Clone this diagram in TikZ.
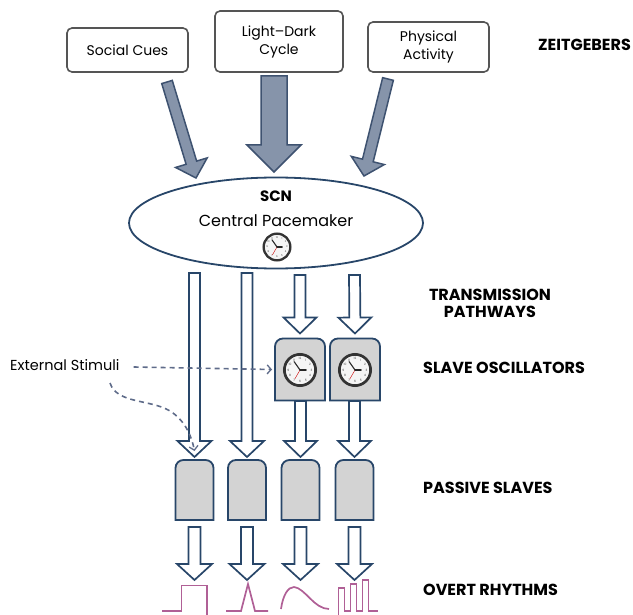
\documentclass[tikz,border=0pt]{standalone}
\usepackage{fontspec}
\setmainfont{Poppins}
\usetikzlibrary{calc,shapes.geometric,arrows.meta}
\definecolor{zfill}{RGB}{134,148,170}
\definecolor{zline}{RGB}{62,82,112}
\definecolor{navy}{RGB}{40,70,105}
\definecolor{boxline}{RGB}{85,85,85}
\definecolor{slavefill}{RGB}{211,211,211}
\definecolor{rhythmc}{RGB}{176,96,150}
\definecolor{dashc}{RGB}{95,108,138}

% block arrow: style, from, to, shaft half width, head half width, head length
\newcommand\blockarrow[6]{%
  \coordinate (bah) at ($(#3)!#6!(#2)$);
  \filldraw[#1] ($(#2)!#4!90:(#3)$) -- ($(bah)!#4!90:(#3)$) -- ($(bah)!#5!90:(#3)$)
    -- (#3) -- ($(bah)!#5!-90:(#3)$) -- ($(bah)!#4!-90:(#3)$) -- ($(#2)!#4!-90:(#3)$) -- cycle;
}
% clock: centre, radius, numeral size
\newcommand\clockface[3]{%
  \begin{scope}[shift={(#1)}, yscale=-1]
    \fill[white!92!gray] (0,0) circle[radius=#2];
    \foreach \h in {1,...,12}
      \node[inner sep=0pt, text=black!75, font=\fontsize{#3}{#3}\selectfont] at ({90-30*\h}:{0.68*#2}) {\h};
    \draw[red!80!black, line width=0.4pt] (0,0) -- (240:{0.62*#2});
    \draw[black!85, line width=1.1pt, line cap=round] (0,0) -- (125:{0.6*#2});
    \draw[black!85, line width=1.1pt, line cap=round] (0,0) -- (0:{0.36*#2});
    \draw[black!80, line width={0.16*#2 pt}] (0,0) circle[radius={0.92*#2}];
  \end{scope}
}
% box with rounded top corners around a node
\newcommand\topround[2]{%
  \filldraw[slavebox] (#1.south west) -- ([yshift=-#2pt]#1.north west)
    arc[start angle=180, end angle=270, radius=#2] -- ([xshift=-#2pt]#1.north east)
    arc[start angle=270, end angle=360, radius=#2] -- (#1.south east) -- cycle;
}

\begin{document}
\begin{tikzpicture}[x=1pt, y=-1pt,
  zbox/.style={draw=boxline, line width=1.6pt, rounded corners=5pt, fill=white,
    font=\fontsize{14}{18}\selectfont, align=center, inner sep=0pt},
  zarrow/.style={fill=zfill, draw=zline, line width=1.5pt, line join=miter},
  tarrow/.style={fill=white, draw=navy, line width=1.7pt, line join=miter},
  slavebox/.style={fill=slavefill, draw=navy, line width=1.8pt},
  holder/.style={inner sep=0pt, outer sep=0pt},
  lvl/.style={font=\fontsize{16}{17}\selectfont\bfseries, inner sep=0pt, anchor=west, align=center},
  rhy/.style={draw=rhythmc, line width=1.7pt, line join=miter},
  dashln/.style={draw=dashc, line width=1.6pt, dash pattern=on 5pt off 4pt},
]
\useasboundingbox (0,0) rectangle (633,615);

% Zeitgebers
\node[zbox, minimum width=121pt, minimum height=44pt] (social) at (127.5,50) {Social Cues};
\node[zbox, minimum width=128pt, minimum height=61pt] (light) at (279,41.5) {Light–Dark\\Cycle};
\node[zbox, minimum width=121pt, minimum height=50pt] (phys) at (428.5,47) {Physical\\Activity};

% SCN
\node[ellipse, draw=navy, line width=1.8pt, minimum width=294pt, minimum height=91pt, inner sep=0pt] (scn) at (276,223) {};
\node[font=\fontsize{15}{16}\selectfont\bfseries, inner sep=0pt] (scnlab) at (276,196) {SCN};
\node[font=\fontsize{16}{18}\selectfont, inner sep=0pt] (cp) at (276,221) {Central Pacemaker};
\coordinate (c0) at (277,247);
\clockface{c0}{14.5}{2.5}

% zeitgeber arrows
\coordinate (za1) at (167,82);  \coordinate (zb1) at (196,178);
\coordinate (za2) at (274,76);  \coordinate (zb2) at (274,172);
\coordinate (za3) at (388,79);  \coordinate (zb3) at (364,176);
\blockarrow{zarrow}{za1}{zb1}{5.5pt}{16.5pt}{16pt}
\blockarrow{zarrow}{za2}{zb2}{13pt}{27pt}{27pt}
\blockarrow{zarrow}{za3}{zb3}{5.5pt}{17pt}{16pt}

% slave oscillators
\node[holder, minimum width=50pt, minimum height=62pt] (osc1) at (300,369.5) {};
\node[holder, minimum width=50pt, minimum height=62pt] (osc2) at (355,369.5) {};
\topround{osc1}{8}
\topround{osc2}{8}
\coordinate (c1) at (300,370);
\coordinate (c2) at (355,370);
\clockface{c1}{17}{3}
\clockface{c2}{17}{3}

% passive slaves
\node[holder, minimum width=38pt, minimum height=60pt] (p1) at (194.5,490) {};
\node[holder, minimum width=38pt, minimum height=60pt] (p2) at (247,490) {};
\node[holder, minimum width=38pt, minimum height=60pt] (p3) at (300.5,490) {};
\node[holder, minimum width=38pt, minimum height=60pt] (p4) at (354.5,490) {};
\foreach \n in {p1,p2,p3,p4} {\topround{\n}{8}}

% transmission arrows
\coordinate (t1) at (194.5,273); \coordinate (t2) at (247,273);
\coordinate (t3) at (300,275);   \coordinate (t4) at (354.5,275);
\coordinate (e1) at ([yshift=3pt]p1.north);
\coordinate (e2) at ([yshift=3pt]p2.north);
\coordinate (o1) at ([yshift=5pt]osc1.north);
\coordinate (o2) at ([yshift=5pt]osc2.north);
\blockarrow{tarrow}{t1}{e1}{5.5pt}{17pt}{16pt}
\blockarrow{tarrow}{t2}{e2}{5.5pt}{17pt}{16pt}
\blockarrow{tarrow}{t3}{o1}{5.5pt}{16.5pt}{16pt}
\blockarrow{tarrow}{t4}{o2}{5.5pt}{16.5pt}{16pt}
\coordinate (s3) at (300.5,401); \coordinate (s4) at (354.5,401);
\coordinate (e3) at ([yshift=3pt]p3.north);
\coordinate (e4) at ([yshift=3pt]p4.north);
\blockarrow{tarrow}{s3}{e3}{5.5pt}{16.5pt}{16pt}
\blockarrow{tarrow}{s4}{e4}{5.5pt}{16.5pt}{16pt}

% arrows to overt rhythms
\foreach \n/\k in {p1/1,p2/2,p3/3,p4/4} {
  \coordinate (b\k) at ([yshift=-7pt]\n.south);
  \coordinate (r\k) at ([yshift=-60pt]\n.south);
}
\blockarrow{tarrow}{b1}{r1}{6pt}{17.5pt}{16pt}
\blockarrow{tarrow}{b2}{r2}{6pt}{17.5pt}{16pt}
\blockarrow{tarrow}{b3}{r3}{6pt}{17.5pt}{16pt}
\blockarrow{tarrow}{b4}{r4}{6pt}{17.5pt}{16pt}

% overt rhythms
\draw[rhy] (162,611) -- (181.5,611) -- (181.5,585.5) -- (207,585.5) -- (207,616);
\draw[rhy] (226,611) -- (241,611) -- (248,584) -- (255,611) -- (268,611);
\draw[rhy] (281,609) .. controls (283,595) and (288,587) .. (294,587)
  .. controls (305,588) and (314,609) .. (329,609);
\draw[rhy] (338.5,616) -- (338.5,588) -- (344.5,588) -- (344.5,611) -- (350.5,611) -- (350.5,584)
  -- (356.5,584) -- (356.5,611) -- (362.5,611) -- (362.5,580) -- (368.5,580) -- (368.5,611) -- (378,611);

% external stimuli
\node[font=\fontsize{14.5}{16}\selectfont, inner sep=0pt, anchor=west] (ext) at (10,365) {External Stimuli};
\coordinate (ex1) at ([xshift=14pt,yshift=-2pt]ext.east);
\coordinate (ex2) at ([xshift=-3pt]osc1.west);
\draw[dashln, -{Straight Barb[length=4pt, width=9pt, line width=1.3pt]}] (ex1) -- (ex2);
\coordinate (ex3) at (110,383);
\coordinate (ex4) at ([yshift=9pt]p1.north);
\draw[dashln, -{Straight Barb[length=4pt, width=9pt, line width=1.3pt]}] (ex3)
  .. controls (117,404) and (150,399) .. (170,411) .. controls (186,421) and (192,438) .. (ex4);

% level labels
\node[lvl] (zlab) at (538,45) {ZEITGEBERS};
\node[lvl, anchor=center] (tlab) at (490,303.5) {TRANSMISSION\\PATHWAYS};
\node[lvl] (slab) at (423,368) {SLAVE OSCILLATORS};
\node[lvl] (plab) at (423,488) {PASSIVE SLAVES};
\node[lvl] (olab) at (423,590) {OVERT RHYTHMS};
\end{tikzpicture}
\end{document}
